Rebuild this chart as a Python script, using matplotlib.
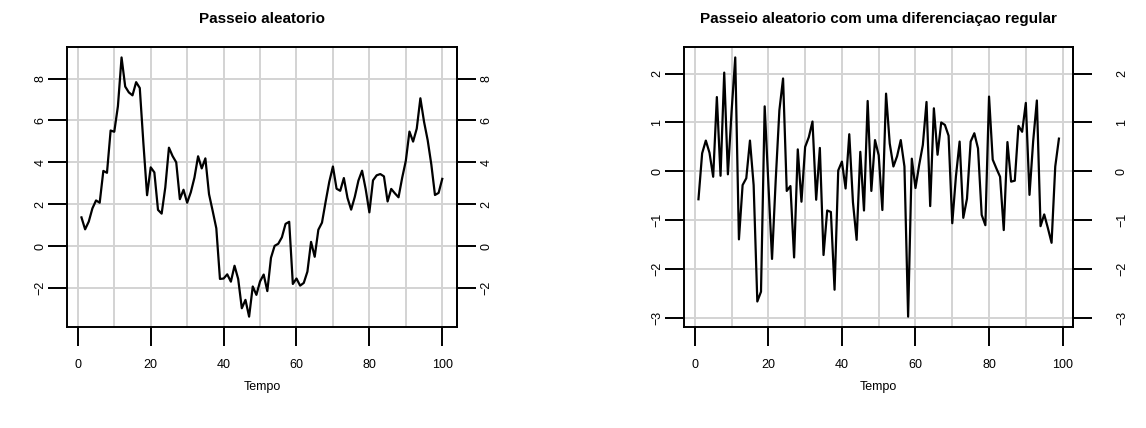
"""Passeio aleatorio e a sua primeira diferenca, no estilo dos graficos base do R."""
import matplotlib

matplotlib.use("Agg")
import matplotlib.pyplot as plt

plt.rcParams["font.family"] = ["Liberation Sans", "DejaVu Sans"]

# serie do passeio aleatorio (t = 1..100)
tempo = list(range(1, 101))
passeio = [
    1.37, 0.80, 1.17, 1.80, 2.18, 2.07, 3.59, 3.50, 5.52, 5.46,
    6.68, 9.01, 7.62, 7.34, 7.20, 7.83, 7.55, 4.89, 2.43, 3.76,
    3.52, 1.73, 1.55, 2.80, 4.70, 4.30, 4.00, 2.24, 2.69, 2.07,
    2.57, 3.27, 4.29, 3.71, 4.19, 2.48, 1.68, 0.85, -1.57, -1.55,
    -1.35, -1.70, -0.94, -1.57, -2.97, -2.57, -3.37, -1.93, -2.33, -1.69,
    -1.36, -2.15, -0.56, 0.01, 0.11, 0.42, 1.06, 1.16, -1.81, -1.55,
    -1.89, -1.76, -1.22, 0.20, -0.51, 0.78, 1.12, 2.12, 3.07, 3.80,
    2.74, 2.64, 3.25, 2.30, 1.74, 2.35, 3.13, 3.60, 2.71, 1.61,
    3.14, 3.38, 3.44, 3.33, 2.13, 2.73, 2.52, 2.33, 3.26, 4.07,
    5.47, 4.99, 5.61, 7.06, 5.94, 5.06, 3.90, 2.44, 2.54, 3.21,
]

# serie diferenciada (t = 1..99)
tempo_dif = list(range(1, 100))
diferenca = [
    -0.57, 0.37, 0.63, 0.38, -0.11, 1.52, -0.09, 2.02, -0.06, 1.22,
    2.33, -1.39, -0.28, -0.14, 0.63, -0.28, -2.66, -2.46, 1.33, -0.24,
    -1.79, -0.18, 1.25, 1.90, -0.40, -0.30, -1.76, 0.45, -0.62, 0.50,
    0.70, 1.02, -0.58, 0.48, -1.71, -0.80, -0.83, -2.42, 0.02, 0.20,
    -0.35, 0.76, -0.63, -1.40, 0.40, -0.80, 1.44, -0.40, 0.64, 0.33,
    -0.79, 1.59, 0.57, 0.10, 0.31, 0.64, 0.10, -2.97, 0.26, -0.34,
    0.13, 0.54, 1.42, -0.71, 1.29, 0.34, 1.00, 0.95, 0.73, -1.06,
    -0.10, 0.61, -0.95, -0.56, 0.61, 0.78, 0.47, -0.89, -1.10, 1.53,
    0.24, 0.06, -0.11, -1.20, 0.60, -0.21, -0.19, 0.93, 0.81, 1.40,
    -0.48, 0.62, 1.45, -1.12, -0.88, -1.16, -1.46, 0.10, 0.67,
]

x_ticks = [0, 20, 40, 60, 80, 100]
x_grid = list(range(0, 101, 10))
y_ticks_passeio = [-2, 0, 2, 4, 6, 8]
y_ticks_dif = [-3, -2, -1, 0, 1, 2]

TICK_PT = 9
TICK_LEN = 13.7
LW = 1.4
GRID = "#d3d3d3"


def rotulos(valores):
    return [str(v).replace("-", "\u2212") for v in valores]


def r_panel(ax, x, y, titulo, y_ticks, pad_direita):
    ax.set_xticks(x_grid, minor=True)
    ax.set_yticks(y_ticks)
    ax.grid(True, which="both", axis="x", color=GRID, lw=1.4)
    ax.grid(True, which="major", axis="y", color=GRID, lw=1.4)
    ax.set_axisbelow(True)
    ax.plot(x, y, color="black", lw=1.6)
    ax.margins(x=0.04, y=0.04)

    ax.set_xticks(x_ticks)
    ax.set_xticklabels([str(v) for v in x_ticks])
    ax.tick_params(axis="x", which="minor", length=0)
    ax.tick_params(axis="x", which="major", direction="out", length=TICK_LEN,
                   width=LW, labelsize=TICK_PT, pad=9.2)
    ax.tick_params(axis="y", direction="out", length=TICK_LEN, width=LW,
                   labelsize=TICK_PT, pad=1.2)
    ax.set_yticklabels(rotulos(y_ticks), rotation=90, va="center")

    # eixo da direita com os mesmos valores
    sec = ax.secondary_yaxis("right")
    sec.set_yticks(y_ticks)
    sec.set_yticklabels(rotulos(y_ticks), rotation=90, va="center")
    sec.tick_params(direction="out", length=TICK_LEN, width=LW,
                    labelsize=TICK_PT, pad=pad_direita)
    sec.spines["right"].set_linewidth(LW)

    for s in ax.spines.values():
        s.set_linewidth(LW)
    ax.set_title(titulo, fontsize=11, fontweight="bold", pad=17.6)
    ax.set_xlabel("Tempo", fontsize=TICK_PT, labelpad=7)


fig = plt.figure(figsize=(11.46, 4.28), dpi=100)
ax1 = fig.add_axes([0.0585, 0.236, 0.340, 0.654])
ax2 = fig.add_axes([0.5969, 0.236, 0.3397, 0.654])

r_panel(ax1, tempo, passeio, "Passeio aleatorio", y_ticks_passeio, 3.5)
r_panel(ax2, tempo_dif, diferenca,
        "Passeio aleatorio com uma diferenciaçao regular", y_ticks_dif, 17.0)

fig.savefig("out.png", dpi=100)
